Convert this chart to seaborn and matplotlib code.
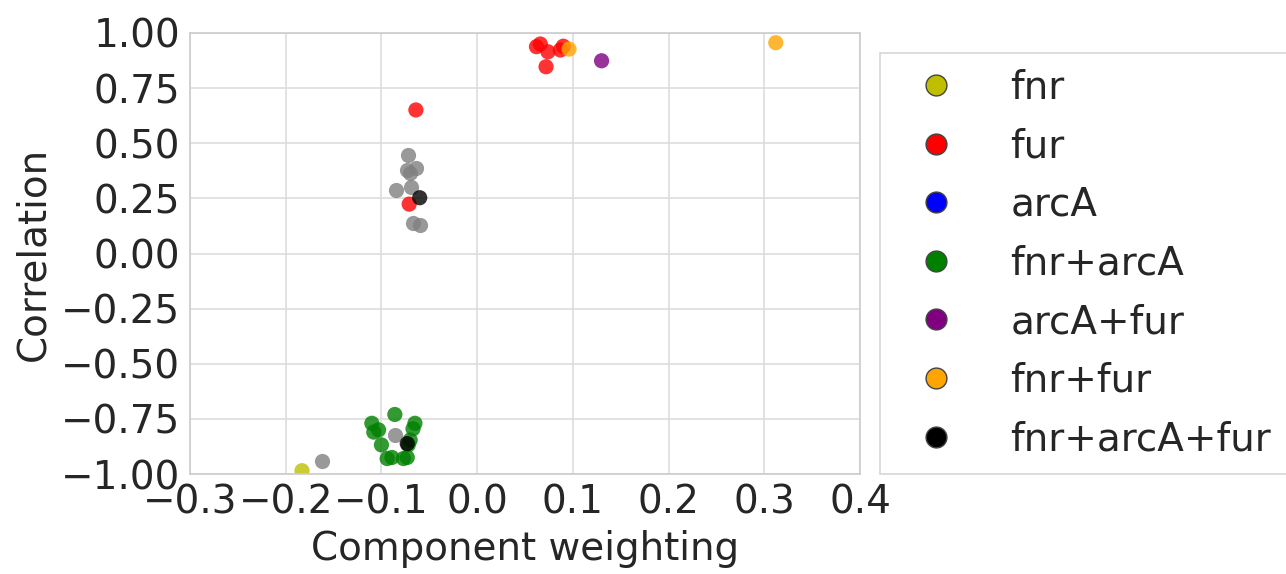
import matplotlib
matplotlib.use("Agg")
import matplotlib.pyplot as plt
from matplotlib.lines import Line2D
import seaborn as sns
import pandas as pd

groups = ["fnr", "fur", "arcA", "fnr+arcA", "arcA+fur", "fnr+fur", "fnr+arcA+fur"]
colors = ["#bfbf00", "red", "blue", "green", "purple", "orange", "black"]

fnr_x = [-0.183]
fnr_y = [-0.985]
fur_x = [0.062, 0.066, 0.074, 0.087, 0.090, 0.072, -0.064, -0.071]
fur_y = [0.938, 0.950, 0.915, 0.923, 0.940, 0.847, 0.651, 0.224]
arcA_x = []
arcA_y = []
fnrarcA_x = [-0.110, -0.108, -0.103, -0.100, -0.086, -0.065, -0.067, -0.070, -0.072,
             -0.094, -0.077, -0.089, -0.073]
fnrarcA_y = [-0.770, -0.810, -0.800, -0.868, -0.730, -0.770, -0.795, -0.846, -0.868,
             -0.930, -0.930, -0.925, -0.925]
arcAfur_x = [0.130]
arcAfur_y = [0.874]
fnrfur_x = [0.096, 0.312]
fnrfur_y = [0.927, 0.956]
all3_x = [-0.060, -0.073]
all3_y = [0.253, -0.862]
other_x = [-0.072, -0.064, -0.073, -0.070, -0.069, -0.085, -0.067, -0.060, -0.162, -0.086]
other_y = [0.447, 0.386, 0.379, 0.364, 0.303, 0.288, 0.137, 0.129, -0.940, -0.825]

xs = [fnr_x, fur_x, arcA_x, fnrarcA_x, arcAfur_x, fnrfur_x, all3_x]
ys = [fnr_y, fur_y, arcA_y, fnrarcA_y, arcAfur_y, fnrfur_y, all3_y]

rows = []
for g, gx, gy in zip(groups, xs, ys):
    for a, b in zip(gx, gy):
        rows.append({"x": a, "y": b, "group": g})
df = pd.DataFrame(rows)
df_other = pd.DataFrame({"x": other_x, "y": other_y})

sns.set_style("whitegrid")
plt.rcParams["font.family"] = ["DejaVu Sans"]
plt.rcParams["font.size"] = 28

fig = plt.figure(figsize=(12.86, 5.74), dpi=100)
ax = fig.add_axes([190/1286, 1 - 474/574, 670/1286, 441/574])

sns.scatterplot(data=df_other, x="x", y="y", color="grey", s=120, alpha=0.8,
                linewidth=0, ax=ax, legend=False)
sns.scatterplot(data=df, x="x", y="y", hue="group", hue_order=groups,
                palette=dict(zip(groups, colors)), s=120, alpha=0.8,
                linewidth=0, ax=ax, legend=False)

ax.set_xlim(-0.3, 0.4)
ax.set_ylim(-1.0, 1.0)
ax.set_xticks([-0.3, -0.2, -0.1, 0.0, 0.1, 0.2, 0.3, 0.4])
ax.set_yticks([-1.0, -0.75, -0.5, -0.25, 0.0, 0.25, 0.5, 0.75, 1.0])
ax.set_xticklabels(["\u22120.3", "\u22120.2", "\u22120.1", "0.0", "0.1", "0.2", "0.3", "0.4"])
ax.set_yticklabels(["\u22121.00", "\u22120.75", "\u22120.50", "\u22120.25", "0.00",
                    "0.25", "0.50", "0.75", "1.00"])
ax.tick_params(labelsize=28, colors="#262626", length=0, pad=7)
ax.set_xlabel("Component weighting", fontsize=28, color="#262626", labelpad=6)
ax.set_ylabel("Correlation", fontsize=28, color="#262626", labelpad=6)
ax.grid(True, color="#dddddd", linewidth=1.2)
for sp in ax.spines.values():
    sp.set_color("#cccccc")
    sp.set_linewidth(1.2)

handles = [Line2D([0], [0], marker="o", linestyle="", markersize=15,
                  markerfacecolor=c, markeredgecolor="#444444", markeredgewidth=1)
           for c in colors]
leg = fig.legend(handles, groups, loc="upper left",
                 bbox_to_anchor=(880/1286, 1 - 53/574), frameon=True,
                 fontsize=28, labelspacing=0.53, handletextpad=0.85,
                 borderpad=0.4, borderaxespad=0, fancybox=False,
                 edgecolor="#cccccc", handlelength=2.1)
for t in leg.get_texts():
    t.set_color("#262626")
leg.get_frame().set_linewidth(1.2)

fig.savefig("out.png", dpi=100)
